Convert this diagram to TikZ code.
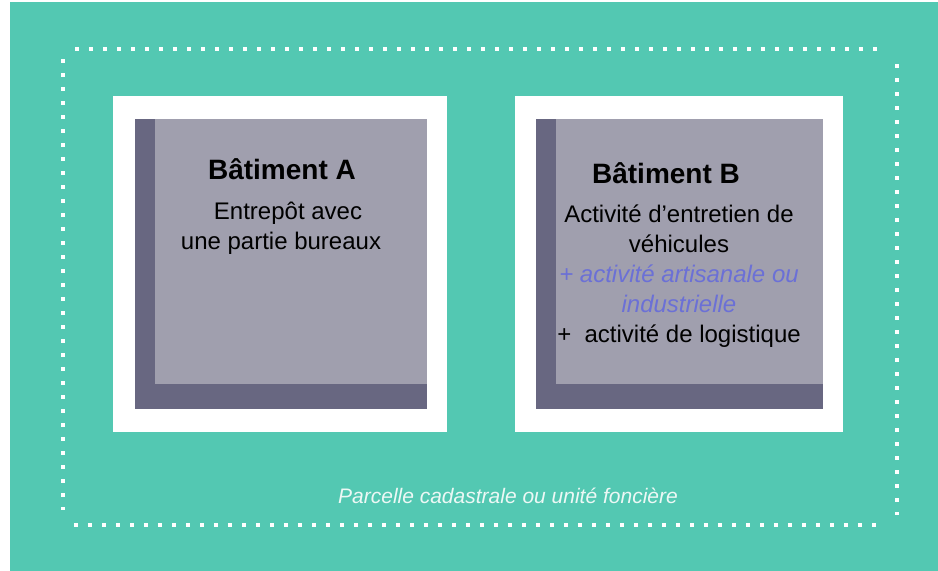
\documentclass[tikz,border=0pt]{standalone}
\usepackage{fontspec}
\setmainfont{Liberation Sans}
\usetikzlibrary{calc,positioning}
\definecolor{parcelle}{HTML}{53C8B2}
\definecolor{grisclair}{HTML}{A09FAE}
\definecolor{grisfonce}{HTML}{686781}
\definecolor{bleuactivite}{HTML}{6B70D6}
\definecolor{blanccasse}{HTML}{ECF8F5}
\tikzset{
  pointilles/.style={white,line width=1.8pt,dash pattern=on 1.8pt off 5.2pt},
  titre/.style={font=\fontsize{14}{17}\selectfont\bfseries,text=black},
  texte/.style={font=\fontsize{12}{15}\selectfont,align=center,text=black,inner sep=0pt},
  legende/.style={font=\fontsize{10.5}{13}\selectfont\itshape,text=blanccasse}
}
\begin{document}
\begin{tikzpicture}[x=0.5pt,y=-0.5pt]
              \useasboundingbox (0,0) rectangle (938,571);
              \fill[white] (0,0) rectangle (938,571);
              \fill[parcelle] (10,2) rectangle (938,571);
              % limite de la parcelle
              \draw[pointilles] (75.2,49) -- (887,49);
              \draw[pointilles] (74.2,525) -- (886,525);
              \draw[pointilles] (63,59.2) -- (63,510);
              \draw[pointilles] (897,64.2) -- (897,515);
              % batiment A
              \fill[white] (113,96) rectangle (447,432);
              \fill[grisfonce] (135,119) rectangle (427,409);
              \fill[grisclair] (155,119) rectangle (427,384);
              \node[titre](titreA)at(282,169){Bâtiment A};
              \node[texte](texteA)at(288,213){Entrepôt avec};
              \node[texte](texteA2)at(281,243){une partie bureaux};
              % batiment B
              \fill[white] (515,96) rectangle (843,432);
              \fill[grisfonce] (536,119) rectangle (823,409);
              \fill[grisclair] (556,119) rectangle (823,384);
              \node[titre](titreB)at(666,173){Bâtiment B};
              \node[texte](texteB)at(679,276){Activité d’entretien de\\véhicules\\
                \textcolor{bleuactivite}{\itshape + activité artisanale ou}\\
                \textcolor{bleuactivite}{\itshape industrielle}\\
                +~~activité de logistique};
              \node[legende](legende)at(508,496){Parcelle cadastrale ou unité foncière};
            \end{tikzpicture}
\end{document}
